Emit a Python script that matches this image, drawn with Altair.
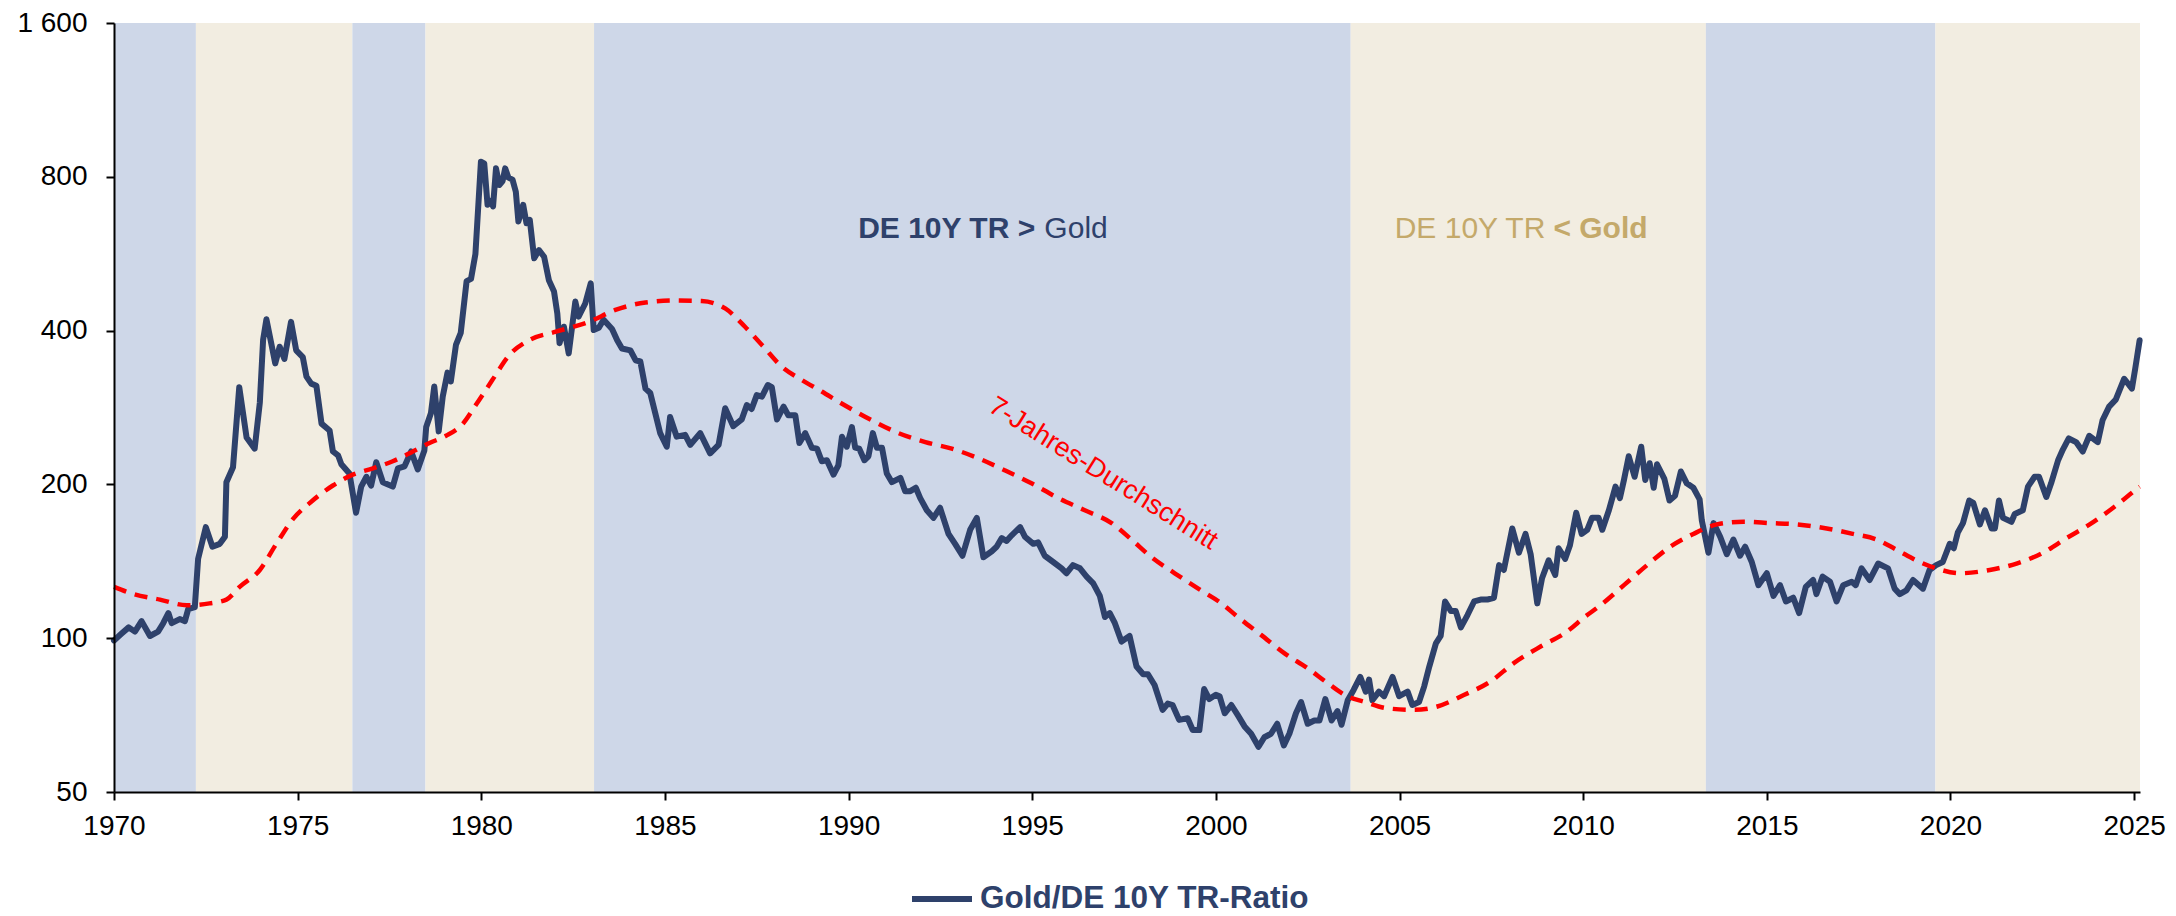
import altair as alt
import pandas as pd

# ---------------- data ----------------
years = [
    1970.0, 1970.2, 1970.4, 1970.57, 1970.75, 1970.98, 1971.2, 1971.34, 1971.48, 1971.57,
    1971.79, 1971.93, 1972.02, 1972.2, 1972.29, 1972.5, 1972.68, 1972.88, 1973.02, 1973.06,
    1973.24, 1973.41, 1973.61, 1973.83, 1973.97, 1974.06, 1974.15, 1974.39, 1974.51, 1974.64,
    1974.82, 1974.96, 1975.14, 1975.24, 1975.37, 1975.51, 1975.65, 1975.87, 1975.96, 1976.1,
    1976.19, 1976.41, 1976.59, 1976.73, 1976.87, 1977.0, 1977.14, 1977.32, 1977.59, 1977.73,
    1977.91, 1978.09, 1978.27, 1978.45, 1978.5, 1978.63, 1978.72, 1978.84, 1978.95, 1979.08,
    1979.17, 1979.31, 1979.44, 1979.6, 1979.72, 1979.84, 1979.99, 1980.08, 1980.17, 1980.26,
    1980.32, 1980.4, 1980.49, 1980.58, 1980.65, 1980.74, 1980.85, 1980.94, 1981.01, 1981.14,
    1981.23, 1981.32, 1981.44, 1981.57, 1981.71, 1981.84, 1981.98, 1982.07, 1982.13, 1982.25,
    1982.38, 1982.56, 1982.65, 1982.83, 1982.98, 1983.06, 1983.2, 1983.33, 1983.56, 1983.7,
    1983.83, 1984.06, 1984.2, 1984.33, 1984.47, 1984.6, 1984.74, 1984.87, 1985.05, 1985.14,
    1985.32, 1985.55, 1985.69, 1985.96, 1986.23, 1986.46, 1986.64, 1986.86, 1987.09, 1987.23,
    1987.36, 1987.5, 1987.64, 1987.8, 1987.91, 1988.05, 1988.23, 1988.36, 1988.55, 1988.66,
    1988.82, 1989.0, 1989.14, 1989.27, 1989.41, 1989.59, 1989.72, 1989.82, 1989.95, 1990.09,
    1990.18, 1990.29, 1990.43, 1990.54, 1990.66, 1990.77, 1990.91, 1991.04, 1991.18, 1991.41,
    1991.54, 1991.68, 1991.83, 1991.95, 1992.13, 1992.31, 1992.49, 1992.72, 1992.9, 1993.1,
    1993.31, 1993.49, 1993.67, 1993.9, 1994.03, 1994.17, 1994.3, 1994.44, 1994.67, 1994.8,
    1995.03, 1995.16, 1995.34, 1995.57, 1995.8, 1995.93, 1996.11, 1996.3, 1996.48, 1996.66,
    1996.84, 1996.98, 1997.11, 1997.25, 1997.43, 1997.65, 1997.84, 1998.02, 1998.15, 1998.33,
    1998.55, 1998.69, 1998.82, 1999.0, 1999.23, 1999.37, 1999.55, 1999.68, 1999.82, 2000.0,
    2000.1, 2000.24, 2000.42, 2000.6, 2000.78, 2000.96, 2001.16, 2001.32, 2001.5, 2001.67,
    2001.85, 2002.0, 2002.18, 2002.32, 2002.5, 2002.68, 2002.82, 2002.98, 2003.15, 2003.31,
    2003.42, 2003.59, 2003.75, 2003.93, 2004.08, 2004.17, 2004.26, 2004.44, 2004.58, 2004.81,
    2004.99, 2005.22, 2005.35, 2005.53, 2005.67, 2005.81, 2005.99, 2006.12, 2006.24, 2006.4,
    2006.53, 2006.67, 2006.85, 2007.03, 2007.21, 2007.39, 2007.57, 2007.71, 2007.84, 2008.07,
    2008.25, 2008.43, 2008.57, 2008.75, 2008.88, 2009.06, 2009.24, 2009.33, 2009.51, 2009.64,
    2009.81, 2009.96, 2010.11, 2010.24, 2010.42, 2010.52, 2010.7, 2010.88, 2011.0, 2011.11,
    2011.24, 2011.4, 2011.58, 2011.69, 2011.81, 2011.92, 2012.01, 2012.21, 2012.35, 2012.5,
    2012.66, 2012.82, 2013.0, 2013.17, 2013.23, 2013.41, 2013.55, 2013.73, 2013.91, 2014.09,
    2014.27, 2014.41, 2014.59, 2014.77, 2015.0, 2015.18, 2015.36, 2015.52, 2015.72, 2015.88,
    2016.06, 2016.26, 2016.35, 2016.52, 2016.72, 2016.9, 2017.08, 2017.31, 2017.42, 2017.58,
    2017.8, 2018.03, 2018.3, 2018.48, 2018.62, 2018.8, 2018.98, 2019.25, 2019.43, 2019.61,
    2019.79, 2019.98, 2020.09, 2020.2, 2020.34, 2020.51, 2020.62, 2020.8, 2020.94, 2021.12,
    2021.21, 2021.32, 2021.43, 2021.66, 2021.75, 2021.97, 2022.11, 2022.29, 2022.41, 2022.61,
    2022.74, 2022.93, 2023.06, 2023.22, 2023.42, 2023.6, 2023.78, 2024.01, 2024.14, 2024.32,
    2024.5, 2024.73, 2024.94, 2025.03, 2025.15,
]
ratio = [
    99, 102, 105, 103, 108, 101, 103, 107, 112, 107,
    109, 108, 114, 115, 143, 165, 151, 153, 158, 202,
    216, 310, 247, 235, 289, 384, 421, 345, 372, 352,
    416, 366, 355, 325, 315, 312, 263, 255, 232, 228,
    219, 210, 176, 198, 207, 199, 221, 202, 198, 215,
    217, 232, 214, 233, 259, 276, 311, 254, 297, 331,
    318, 375, 396, 500, 505, 565, 856, 850, 705, 718,
    700, 831, 771, 785, 831, 797, 790, 748, 654, 705,
    649, 659, 554, 575, 558, 502, 477, 432, 378, 407,
    361, 456, 426, 452, 495, 401, 405, 420, 403, 383,
    369, 366, 350, 348, 308, 302, 275, 252, 237, 271,
    248, 250, 239, 252, 230, 239, 282, 260, 268, 286,
    281, 299, 297, 313, 310, 268, 284, 273, 273, 241,
    252, 236, 235, 222, 223, 209, 218, 248, 237, 259,
    236, 235, 223, 227, 252, 236, 236, 210, 202, 206,
    194, 194, 197, 188, 178, 172, 180, 160, 153, 145,
    163, 172, 144, 148, 151, 157, 155, 159, 165, 158,
    153, 154, 145, 141, 137, 134, 139, 137, 132, 128,
    121, 110, 112, 107, 98.5, 101, 88, 85, 85, 81,
    72.4, 74.5, 74, 69.2, 69.7, 66.1, 66.1, 79.5, 76, 77.5,
    77, 71.3, 74, 70.6, 67.2, 65, 61.3, 64, 65, 68,
    61.7, 65, 71.3, 75, 68, 69, 69, 76, 69, 72,
    67.7, 75.6, 79.2, 84, 78.6, 83, 75.6, 78.6, 77, 84,
    77, 78.6, 74, 75, 80.4, 88, 97.7, 101, 118, 113,
    113, 105, 111, 118, 119, 119, 120, 139, 136, 164,
    147, 160, 146, 117, 131, 142, 133, 150, 143, 152,
    176, 160, 163, 172, 172, 163, 178, 198, 188, 204,
    227, 207, 237, 204, 220, 197, 219, 205, 186, 190,
    212, 201, 197, 187, 170, 147, 168, 158, 146, 156,
    145, 151, 141, 127, 134, 121, 127, 118, 120, 112,
    126, 130, 122, 132, 129, 118, 127, 129, 127, 137,
    130, 140, 137, 125, 122, 124, 130, 125, 136, 139,
    141, 153, 150, 161, 168, 186, 184, 167, 178, 164,
    164, 186, 172, 169, 175, 178, 198, 207, 207, 189,
    201, 223, 234, 246, 242, 232, 249, 242, 267, 284,
    293, 322, 308, 337, 383,
]

ma_years = [
    1970.0, 1970.53, 1971.25, 1971.98, 1972.6, 1973.06, 1973.42, 1973.97, 1974.42, 1974.87,
    1975.37, 1975.96, 1976.5, 1977.05, 1977.59, 1978.09, 1978.59, 1979.04, 1979.5, 1979.85,
    1980.3, 1980.76, 1981.3, 1982.03, 1982.93, 1983.65, 1984.47, 1985.28, 1986.0, 1986.64,
    1987.18, 1987.64, 1988.18, 1988.73, 1989.27, 1989.81, 1990.63, 1991.36, 1992.09, 1992.81,
    1993.53, 1994.26, 1994.98, 1995.71, 1996.43, 1997.16, 1997.7, 1998.25, 1998.88, 1999.52,
    2000.15, 2000.6, 2001.23, 2001.87, 2002.5, 2003.05, 2003.59, 2004.04, 2004.67, 2005.4,
    2006.03, 2006.75, 2007.48, 2008.11, 2008.84, 2009.47, 2010.11, 2010.47, 2011.11, 2011.74,
    2012.37, 2013.0, 2013.64, 2014.36, 2015.09, 2015.81, 2016.63, 2017.35, 2017.99, 2018.53,
    2019.16, 2019.61, 2020.25, 2021.07, 2021.8, 2022.52, 2023.16, 2023.79, 2024.43, 2024.88,
    2025.15,
]
ma_values = [
    126, 122, 119, 116, 117, 119, 126, 136, 153, 171,
    185, 199, 209, 215, 222, 231, 241, 249, 263, 286,
    320, 358, 383, 398, 416, 439, 454, 458, 457, 442,
    407, 375, 340, 320, 304, 288, 267, 252, 242, 235,
    225, 213, 201, 188, 178, 168, 156, 144, 134, 125,
    117, 110, 101.5, 93.4, 87.3, 81.6, 76.9, 75.1, 72.9, 72.4,
    73.5, 77.4, 82.3, 89.4, 96.3, 102, 111, 116, 127, 139,
    151, 160, 167, 169, 168, 167, 164, 160, 156, 149,
    141, 137, 134, 136, 140, 147, 157, 167, 180, 191,
    198,
]

band_start = [1970.0, 1972.23, 1976.49, 1978.48, 1983.07, 2003.67, 2013.34, 2019.59]
band_end = [1972.23, 1976.49, 1978.48, 1983.07, 2003.67, 2013.34, 2019.59, 2025.16]
band_kind = ["bond", "gold", "bond", "gold", "bond", "gold", "bond", "gold"]

x_ticks = [1970, 1975, 1980, 1985, 1990, 1995, 2000, 2005, 2010, 2015, 2020, 2025]
y_ticks = [50, 100, 200, 400, 800, 1600]

series_label = "Gold/DE 10Y TR-Ratio"
ma_label = "7-Jahres-Durchschnitt"

ann1_bold = "DE 10Y TR >"
ann1_reg = "Gold"
ann2_reg = "DE 10Y TR"
ann2_bold = "< Gold"

# ---------------- styling ----------------
FONT = "Liberation Sans"
NAVY = "#2E416B"
RED = "#FF0000"
GOLD_TXT = "#C4A96A"
BLUE_BAND = "#CED7E8"
BEIGE_BAND = "#F2EDE1"
W, H = 2026, 769

xscale = alt.Scale(domain=[1970, 2025.16], nice=False, zero=False)
yscale = alt.Scale(type="log", domain=[50, 1600], nice=False)

x_axis = alt.Axis(values=x_ticks, format="d", labelFlush=False, labelOverlap=False,
                  labelPadding=12, tickSize=8, zindex=1)
y_axis = alt.Axis(values=y_ticks, format="d", labelFlush=False, labelOverlap=False,
                  labelPadding=19, tickSize=8, zindex=1,
                  labelExpr="datum.value == 1600 ? '1 600' : datum.label")

line_df = pd.DataFrame({"year": years, "value": ratio, "series": series_label})
ma_df = pd.DataFrame({"year": ma_years, "value": ma_values})
band_df = pd.DataFrame({"start": band_start, "end": band_end, "kind": band_kind})

bands = alt.Chart(band_df).mark_rect().encode(
    x=alt.X("start:Q", scale=xscale, axis=x_axis, title=None),
    x2="end:Q",
    y=alt.value(0),
    y2=alt.value(H),
    color=alt.Color("kind:N", scale=alt.Scale(domain=["bond", "gold"], range=[BLUE_BAND, BEIGE_BAND]), legend=None),
)

line = alt.Chart(line_df).mark_line(strokeWidth=6, strokeJoin="round", strokeCap="round").encode(
    x=alt.X("year:Q", scale=xscale, title=None, axis=x_axis),
    y=alt.Y("value:Q", scale=yscale, title=None, axis=y_axis),
    color=alt.Color(
        "series:N",
        scale=alt.Scale(domain=[series_label], range=[NAVY]),
        legend=alt.Legend(
            title=None, orient="none", legendX=795, legendY=843,
            symbolType="stroke", symbolStrokeWidth=6, symbolSize=3600,
            labelFontSize=31.5, labelFontWeight="bold", labelColor=NAVY, labelFont=FONT,
            labelOffset=5, padding=0, labelLimit=0,
        ),
    ),
)

ma = alt.Chart(ma_df).mark_line(
    strokeWidth=4.5, color=RED, strokeDash=[13, 9], interpolate="monotone"
).encode(
    x=alt.X("year:Q", scale=xscale, title=None, axis=x_axis),
    y=alt.Y("value:Q", scale=yscale, title=None, axis=y_axis),
)

def text_layer(x, y, txt, color, weight, align, size=30, angle=0):
    df = pd.DataFrame({"x": [x], "y": [y], "t": [txt]})
    return alt.Chart(df).mark_text(
        font=FONT, fontSize=size, fontWeight=weight, color=color, align=align,
        baseline="middle", angle=angle,
    ).encode(
        x=alt.X("x:Q", scale=xscale, title=None, axis=x_axis),
        y=alt.Y("y:Q", scale=yscale, title=None, axis=y_axis),
        text="t:N",
    )

t1 = text_layer(1995.08, 632, ann1_bold, NAVY, "bold", "right")
t2 = text_layer(1995.33, 632, ann1_reg, NAVY, "normal", "left")
t3 = text_layer(2008.97, 632, ann2_reg, GOLD_TXT, "normal", "right")
t4 = text_layer(2009.19, 632, ann2_bold, GOLD_TXT, "bold", "left")
t5 = text_layer(1996.93, 210, ma_label, RED, "normal", "center", size=27, angle=32)

chart = (
    alt.layer(bands, line, ma, t1, t2, t3, t4, t5)
    .resolve_scale(color="independent")
    .properties(
        width=W, height=H,
        padding={"left": 106, "top": 15, "right": 26, "bottom": 130},
        autosize=alt.AutoSizeParams(type="none"),
        background="white",
    )
    .configure_view(stroke=None)
    .configure_axis(
        grid=False, domainColor="black", domainWidth=2, tickColor="black", tickWidth=2,
        labelFont=FONT, labelFontSize=28, labelColor="black",
    )
)

chart.save("out.html", embed_options={"renderer": "svg", "actions": False})
